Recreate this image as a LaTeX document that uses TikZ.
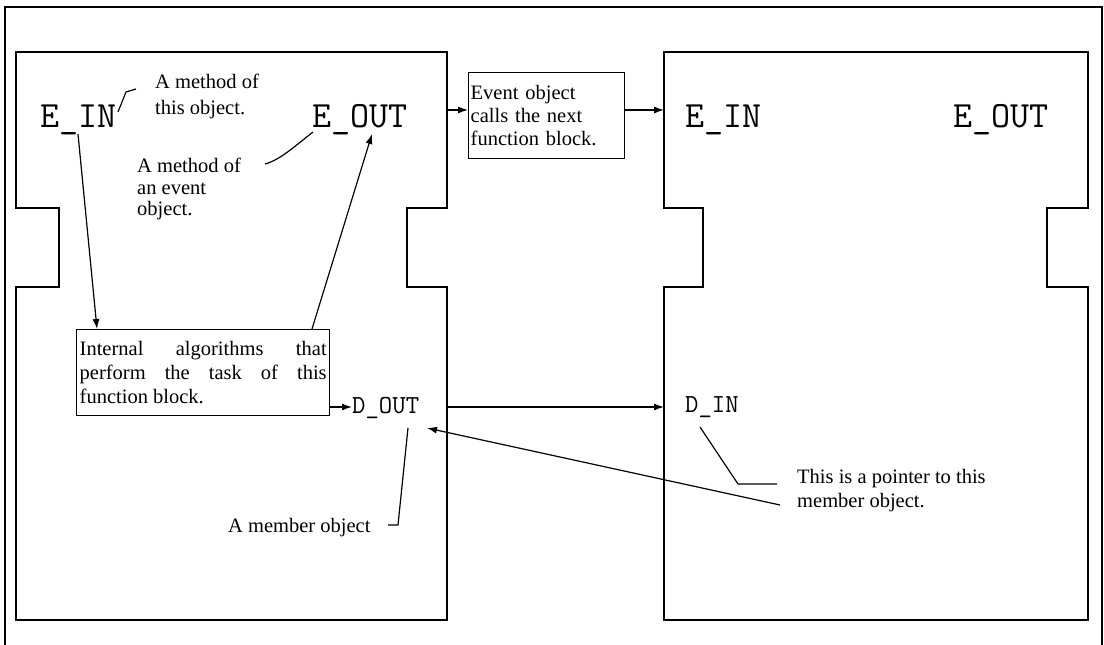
\documentclass[tikz,border=0pt]{standalone}
\usepackage{fontspec}
\setmainfont{Liberation Serif}
\usetikzlibrary{arrows.meta}
\begin{document}
\begin{tikzpicture}[x=1pt,y=-1pt,
  line/.style={line width=1.4pt,line join=miter},
  conn/.style={line width=1.2pt,-{Latex[length=10pt,width=7pt]}},
  lead/.style={line width=1.2pt},
  bigmono/.style={inner sep=0pt,anchor=base west,font=\ttfamily\fontsize{37}{40}\selectfont},
  smallmono/.style={inner sep=0pt,anchor=base west,font=\ttfamily\fontsize{26}{28}\selectfont},
  note/.style={inner sep=0pt,anchor=north west,align=left},
  textbox/.style={draw,line width=1.4pt,anchor=north west}
]
\useasboundingbox (0,0) rectangle (1104,645);
% outer frame
\draw[line width=1.4pt] (5,645) -- (5,7) -- (1102,7) -- (1102,645);
% left function block
\draw[line] (16,52) -- (447,52) -- (447,208) -- (407,208) -- (407,287) -- (447,287) -- (447,620)
  -- (16,620) -- (16,287) -- (59,287) -- (59,208) -- (16,208) -- cycle;
% right function block
\draw[line] (664,52) -- (1088,52) -- (1088,208) -- (1047,208) -- (1047,287) -- (1088,287) -- (1088,620)
  -- (664,620) -- (664,287) -- (703,287) -- (703,208) -- (664,208) -- cycle;

% block edge coordinates
\coordinate (LBr) at (447,110);
\coordinate (RBl) at (664,110);
\coordinate (LBd) at (446,407);
\coordinate (RBd) at (664,407);

% labels of left block
\node[bigmono] (ein1) at (40,127) {E\_IN};
\node[bigmono] (eout1) at (312,127) {E\_OUT};
\node[smallmono] (dout) at (352,413) {D\_OUT};

% labels of right block
\node[bigmono] (ein2) at (685,127) {E\_IN};
\node[bigmono] (eout2) at (953,127) {E\_OUT};
\node[smallmono] (din) at (685,412) {D\_IN};

% notes
\node[note,font=\fontsize{20.5}{26}\selectfont] (n1) at (155,74) {A method of\\this object.};
\node[note,font=\fontsize{20.5}{21.5}\selectfont] (n2) at (137,158) {A method of\\an event\\object.};
\node[note,font=\fontsize{20.5}{24}\selectfont] (n3) at (797,469) {This is a pointer to this\\member object.};
\node[note,font=\fontsize{20.5}{24}\selectfont] (n4) at (228,518) {A member object};

% boxes
\node[textbox,minimum height=86pt,text width=247pt,inner xsep=3pt,inner ysep=0pt,align=justify,
  font=\fontsize{20.5}{24}\selectfont] (algo) at (76,329)
  {Internal algorithms that\linebreak perform the task of this\linebreak function block.};
\node[textbox,minimum height=86pt,text width=152pt,inner xsep=2pt,inner ysep=0pt,align=left,
  font=\fontsize{20.5}{23}\selectfont] (evt) at (468,72)
  {Event object\\calls the next\\function block.};

% leaders
\coordinate (l1a) at (118,112);
\coordinate (l1b) at (126,92);
\coordinate (l1c) at (136,89);
\draw[lead] (l1a) -- (l1b) -- (l1c);
\coordinate (l2a) at (265,164);
\coordinate (l2b) at (313,132);
\draw[lead] (l2a) .. controls (280,160) and (295,146) .. (l2b);
\coordinate (l3a) at (388,525);
\coordinate (l3b) at (398,525);
\coordinate (l3c) at (408,428);
\draw[lead] (l3a) -- (l3b) -- (l3c);
\coordinate (l4a) at (700,427);
\coordinate (l4b) at (738,484);
\coordinate (l4c) at (777,484);
\draw[lead] (l4a) -- (l4b) -- (l4c);

% connectors
\coordinate (einx) at (78,134);
\coordinate (algoin) at (97,329);
\draw[conn] (einx) -- (algoin);
\coordinate (algoout) at (312,329);
\coordinate (eoutx) at (372,134);
\draw[conn] (algoout) -- (eoutx);
\draw[conn] (LBr) -- (evt.west |- LBr);
\draw[conn] (evt.east |- RBl) -- (RBl);
\draw[conn] (algo.east |- LBd) -- (dout.west |- LBd);
\draw[conn] (LBd) -- (RBd);
\coordinate (ptr) at (780,505);
\coordinate (ptrend) at (427,428);
\draw[conn] (ptr) -- (ptrend);
\end{tikzpicture}
\end{document}
